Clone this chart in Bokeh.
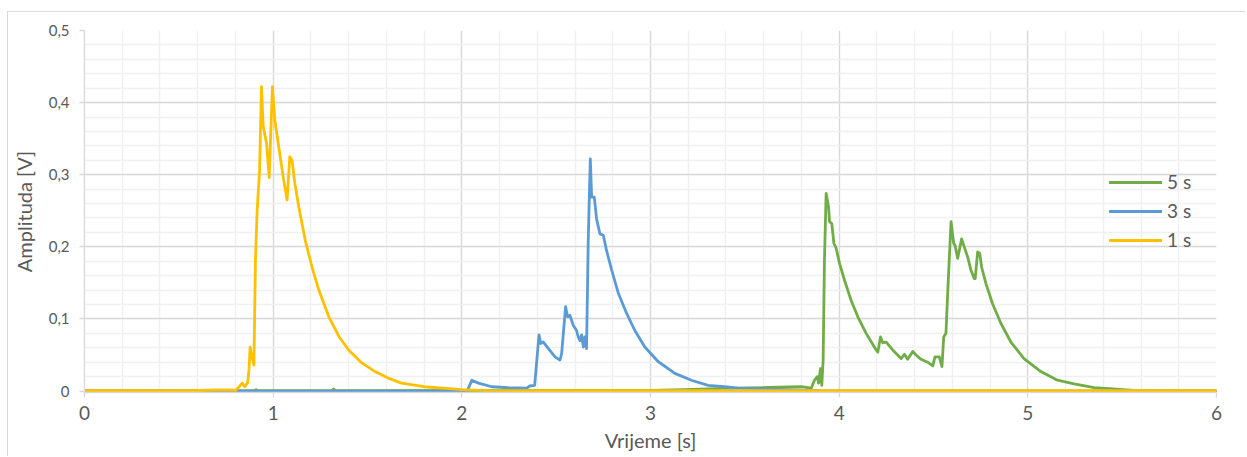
from bokeh.plotting import figure
from bokeh.models import Range1d, FixedTicker, Legend, LegendItem
from bokeh.embed import file_html
from bokeh.resources import INLINE

# ---- data (time [s], amplitude [V]) ----
series_1s = [
    (0, 0.0005), (0.3, 0.0005), (0.6, 0.0008), (0.7, 0.0015), (0.78, 0.0015),
    (0.80, 0.0008), (0.82, 0.006), (0.836, 0.011), (0.85, 0.006), (0.865, 0.012),
    (0.872, 0.03), (0.878, 0.061), (0.885, 0.05), (0.898, 0.036), (0.906, 0.181),
    (0.915, 0.25), (0.928, 0.306), (0.938, 0.422), (0.947, 0.368), (0.965, 0.343),
    (0.979, 0.296), (0.996, 0.422), (1.009, 0.375), (1.03, 0.338), (1.053, 0.297),
    (1.074, 0.265), (1.088, 0.325), (1.10, 0.32), (1.115, 0.288), (1.136, 0.255),
    (1.17, 0.209), (1.206, 0.172), (1.242, 0.14), (1.295, 0.103), (1.35, 0.075),
    (1.40, 0.057), (1.47, 0.039), (1.54, 0.027), (1.61, 0.018), (1.68, 0.011),
    (1.8, 0.006), (1.9, 0.004), (2.0, 0.002), (2.1, 0.001), (2.3, 0.0005),
    (6.0, 0.0005),
]
series_3s = [
    (0, 0.0), (2.03, 0.0), (2.035, 0.004), (2.053, 0.015), (2.088, 0.011),
    (2.159, 0.006), (2.247, 0.0046), (2.344, 0.004), (2.36, 0.007), (2.386, 0.008),
    (2.409, 0.078), (2.418, 0.066), (2.432, 0.068), (2.459, 0.059), (2.494, 0.0475),
    (2.52, 0.043), (2.529, 0.052), (2.55, 0.117), (2.561, 0.103), (2.573, 0.105),
    (2.591, 0.091), (2.608, 0.084), (2.617, 0.075), (2.626, 0.07), (2.635, 0.078),
    (2.644, 0.061), (2.652, 0.075), (2.661, 0.059), (2.67, 0.209), (2.681, 0.322),
    (2.688, 0.269), (2.702, 0.269), (2.714, 0.239), (2.732, 0.218), (2.75, 0.216),
    (2.767, 0.195), (2.794, 0.168), (2.829, 0.136), (2.873, 0.108), (2.917, 0.084),
    (2.97, 0.061), (3.04, 0.041), (3.129, 0.0245), (3.217, 0.015), (3.305, 0.008),
    (3.393, 0.006), (3.464, 0.004), (3.6, 0.003), (3.75, 0.0015), (3.9, 0.0005),
    (6.0, 0.0),
]
series_5s = [
    (0, 0.0005), (0.9, 0.0005), (0.91, 0.002), (0.92, 0.0005), (1.31, 0.0005),
    (1.32, 0.003), (1.33, 0.0005), (3.0, 0.001), (3.18, 0.002), (3.44, 0.004),
    (3.62, 0.005), (3.8, 0.006), (3.852, 0.004), (3.869, 0.015), (3.884, 0.02),
    (3.891, 0.011), (3.901, 0.031), (3.908, 0.008), (3.915, 0.043), (3.922, 0.181),
    (3.931, 0.274), (3.944, 0.255), (3.949, 0.235), (3.961, 0.232), (3.972, 0.205),
    (3.984, 0.198), (4.002, 0.177), (4.028, 0.154), (4.063, 0.126), (4.099, 0.103),
    (4.143, 0.08), (4.196, 0.057), (4.205, 0.054), (4.219, 0.075), (4.231, 0.067),
    (4.249, 0.068), (4.284, 0.057), (4.319, 0.0475), (4.328, 0.045), (4.346, 0.051),
    (4.363, 0.044), (4.39, 0.055), (4.407, 0.05), (4.434, 0.044), (4.469, 0.04),
    (4.496, 0.035), (4.508, 0.0475), (4.531, 0.0475), (4.545, 0.034), (4.554, 0.075),
    (4.566, 0.08), (4.575, 0.135), (4.593, 0.235), (4.607, 0.205), (4.614, 0.202),
    (4.628, 0.184), (4.649, 0.211), (4.663, 0.2), (4.681, 0.186), (4.698, 0.168),
    (4.716, 0.156), (4.721, 0.156), (4.734, 0.193), (4.745, 0.191), (4.755, 0.172),
    (4.778, 0.149), (4.813, 0.121), (4.857, 0.094), (4.91, 0.068), (4.98, 0.045),
    (5.069, 0.027), (5.157, 0.015), (5.245, 0.01), (5.351, 0.0046), (5.45, 0.003),
    (5.56, 0.001), (5.7, 0.0005), (6.0, 0.0005),
]

series_names = ["5 s", "3 s", "1 s"]
series_colors = ["#70AD47", "#5B9BD5", "#FFC000"]

x_ticks = [0, 1, 2, 3, 4, 5, 6]
x_tick_labels = ["0", "1", "2", "3", "4", "5", "6"]
x_minor = [i * 0.2 for i in range(31)]
y_ticks = [0, 0.1, 0.2, 0.3, 0.4, 0.5]
y_tick_labels = ["0", "0,1", "0,2", "0,3", "0,4", "0,5"]
y_minor = [i * 0.02 for i in range(26)]

x_title = "Vrijeme [s]"
y_title = "Amplituda [V]"

FONT = "Lato"
TXT = "#595959"

p = figure(width=1238, height=445, output_backend="svg", toolbar_location=None,
           x_range=Range1d(0, 6), y_range=Range1d(-0.002, 0.5),
           min_border_left=75, min_border_right=30, min_border_top=18,
           min_border_bottom=65)
p.margin = (12, 0, 0, 8)
p.styles = {"box-shadow": "-1px -1px 0 0 #d9d9d9"}
p.outline_line_color = None
p.background_fill_color = "white"
p.border_fill_color = "white"

p.xaxis.ticker = FixedTicker(ticks=x_ticks, minor_ticks=x_minor)
p.yaxis.ticker = FixedTicker(ticks=y_ticks, minor_ticks=y_minor)
p.xaxis.major_label_overrides = {t: l for t, l in zip(x_ticks, x_tick_labels)}
p.yaxis.major_label_overrides = {t: l for t, l in zip(y_ticks, y_tick_labels)}

for ax in (p.xaxis, p.yaxis):
    ax.axis_line_color = "#d9d9d9"
    ax.axis_line_width = 1.3
    ax.major_tick_line_color = "#d9d9d9"
    ax.major_tick_line_width = 1.3
    ax.major_tick_out = 5
    ax.major_tick_in = 0
    ax.minor_tick_line_color = None
    ax.major_label_text_font = FONT
    ax.major_label_text_color = TXT
    ax.axis_label_text_font = FONT
    ax.axis_label_text_color = TXT
    ax.axis_label_text_font_style = "normal"
    ax.axis_label_text_font_size = "20px"

p.xaxis.major_label_text_font_size = "19px"
p.yaxis.major_label_text_font_size = "15px"
p.xaxis.major_label_standoff = 8
p.yaxis.major_label_standoff = 10
p.xaxis.axis_label = x_title
p.yaxis.axis_label = y_title
p.xaxis.axis_label_standoff = 5
p.yaxis.axis_label_standoff = 10

p.xgrid.ticker = p.xaxis.ticker
p.ygrid.ticker = p.yaxis.ticker
for g in (p.xgrid, p.ygrid):
    g.grid_line_color = "#d9d9d9"
    g.grid_line_width = 1.3
    g.minor_grid_line_color = "#f0f0f0"
    g.minor_grid_line_width = 1.5

renderers = {}
for name, data, color in zip(series_names, [series_5s, series_3s, series_1s], series_colors):
    xs = [d[0] for d in data]
    ys = [d[1] for d in data]
    renderers[name] = p.line(xs, ys, line_color=color, line_width=2.8,
                             line_join="round", line_cap="round")

legend = Legend(items=[LegendItem(label=n, renderers=[renderers[n]]) for n in series_names],
                location=(1025, 141), orientation="vertical",
                glyph_width=53, glyph_height=20, label_height=20,
                label_standoff=5, spacing=6, padding=0, margin=0,
                background_fill_alpha=0, border_line_alpha=0,
                label_text_font=FONT, label_text_font_size="19px",
                label_text_color=TXT)
p.add_layout(legend)

open("out.html", "w").write(file_html(p, INLINE))
